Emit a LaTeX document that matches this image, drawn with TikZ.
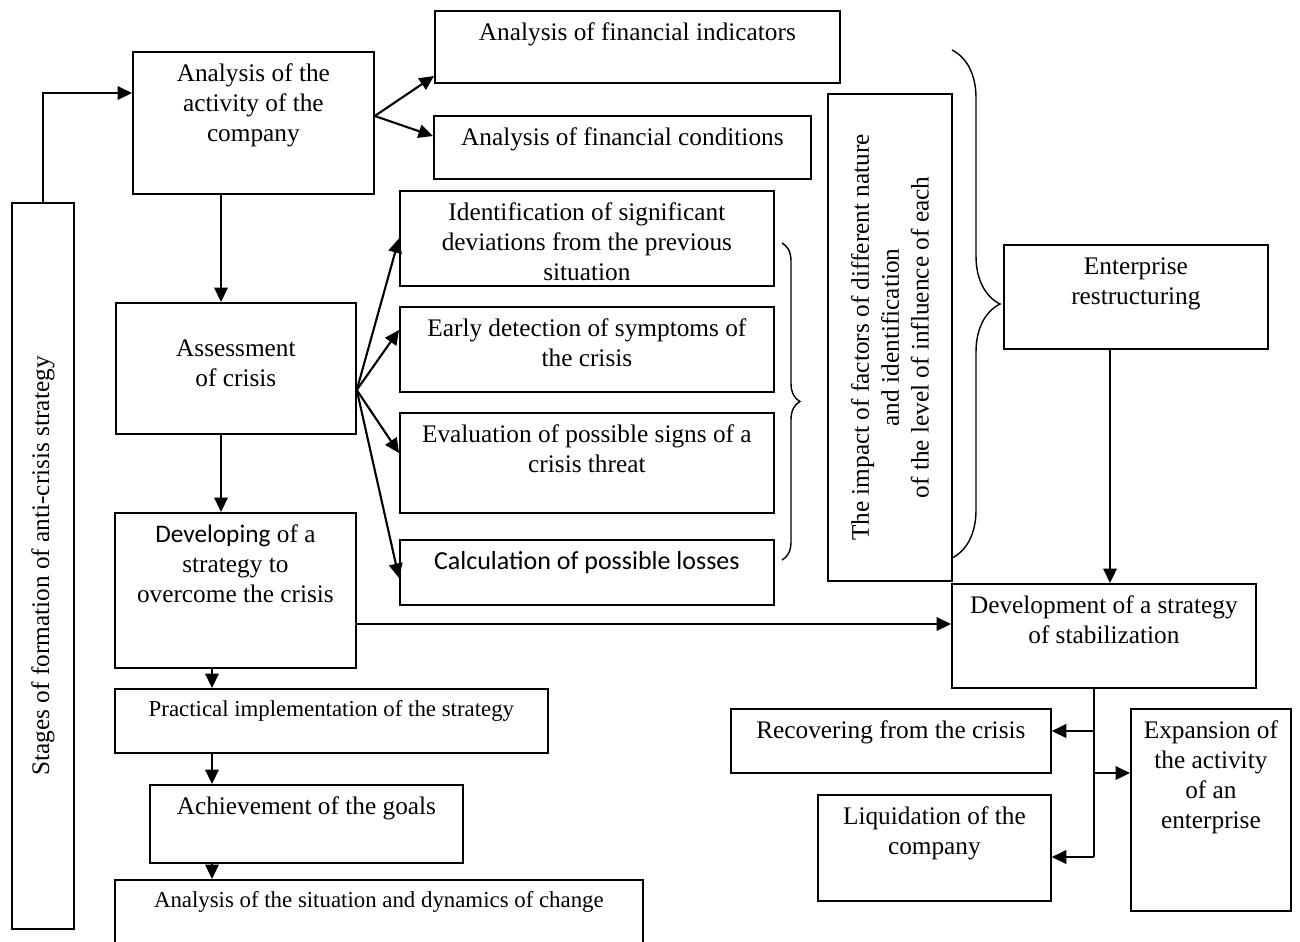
\documentclass[tikz,border=0pt]{standalone}
\usepackage{fontspec}
\setmainfont{Liberation Serif}
\newfontfamily\calfont{Carlito}
\usepackage{tikz}
\usetikzlibrary{arrows.meta, positioning, calc, decorations.pathreplacing}
\newlength\pxu
\setlength\pxu{0.02cm}
% box text, pinned to the top of a box of given size
\newcommand{\tb}[4][9]{\parbox[c][#3\pxu][t]{#2\pxu}{\centering\vspace*{#1\pxu}\strut #4\par}}

\begin{document}
\begin{tikzpicture}[
  x=0.02cm, y=-0.02cm,
  font=\fontsize{14.4}{17}\selectfont,
  box/.style={draw, line width=1pt, inner sep=0pt, anchor=north west},
  sidebox/.style={draw, line width=1pt, rotate=90, align=center, inner sep=0pt},
  small/.style={font=\fontsize{13}{15.5}\selectfont},
  arr/.style={line width=1.2pt, -{Triangle[length=0.29cm, width=0.27cm]}},
  link/.style={line width=1.2pt},
  brc/.style={decorate, decoration={brace, amplitude=#1}, line width=0.8pt}
]
  \useasboundingbox (0,0) rectangle (1300,941);
  \clip (0,0) rectangle (1300,941);

  % left column
  \node[sidebox, minimum width=14.52cm, minimum height=1.24cm] (stages) at (43,566) {Stages of formation of anti-crisis strategy};
  \node[box] (act) at (132,51) {\tb{241}{142}{Analysis of the\\activity of the\\company}};
  \node[box] (assess) at (115,302) {\tb[33]{240}{131}{Assessment\\of crisis}};
  \node[box] (devel) at (114,512) {\tb{241}{155}{{\calfont Developing} of a\\strategy to\\overcome the crisis}};
  \node[box, small] (pract) at (114,688) {\tb{433}{64}{Practical implementation of the strategy}};
  \node[box] (goals) at (149,784) {\tb{313}{78}{Achievement of the goals}};
  \node[box, small] (situ) at (114,879) {\tb{528}{100}{Analysis of the situation and dynamics of change}};

  % middle column
  \node[box] (findind) at (434,10) {\tb{405}{72}{Analysis of financial indicators}};
  \node[box] (fincond) at (433,115) {\tb{377}{63}{Analysis of financial conditions}};
  \node[box] (ident) at (399,190) {\tb{374}{95}{Identification of significant\\deviations from the previous\\situation}};
  \node[box] (early) at (399,306) {\tb{374}{85}{Early detection of symptoms of\\the crisis}};
  \node[box] (evalc) at (399,412) {\tb{374}{100}{Evaluation of possible signs of a\\crisis threat}};
  \node[box] (calc) at (399,539) {\tb{374}{65}{\calfont\fontsize{14.8}{17}\selectfont Calculation of possible losses}};

  % right part
  \node[sidebox, minimum width=9.74cm, minimum height=2.48cm] (impact) at (890,337.5) {The impact of factors of different nature\\and identification\\of the level of influence of each};
  \node[box] (restr) at (1003,244) {\tb{264}{104}{Enterprise\\restructuring}};
  \node[box] (stab) at (951,583) {\tb{304}{104}{Development of a strategy\\of stabilization}};
  \node[box] (recov) at (730,708) {\tb{320}{64}{Recovering from the crisis}};
  \node[box] (liquid) at (817,794) {\tb{233}{106}{Liquidation of the\\company}};
  \node[box] (expan) at (1130,708) {\tb{160}{202}{Expansion of\\the activity\\of an\\enterprise}};

  % connectors
  \draw[arr] (stages.east) |- (act.west |- 0,93);
  \coordinate (actout) at (act.east |- 0,116);
  \draw[arr] (actout) -- (findind.west |- 0,76);
  \draw[arr] (actout) -- (fincond.west |- 0,136);
  \draw[arr] (act.south -| 221,0) -- (assess.north -| 221,0);
  \coordinate (assout) at (assess.east |- 0,390);
  \draw[arr] (assout) -- (ident.west);
  \draw[arr] (assout) -- (early.west |- 0,330);
  \draw[arr] (assout) -- (evalc.west |- 0,453);
  \draw[arr] (assout) -- (calc.west |- 0,578);
  \draw[arr] (assess.south -| 221,0) -- (devel.north -| 221,0);
  \draw[arr] (devel.east |- 0,624) -- (stab.west |- 0,624);
  \draw[arr] (devel.south -| 212,0) -- (pract.north -| 212,0);
  \draw[arr] (pract.south -| 212,0) -- (goals.north -| 212,0);
  \draw[arr] (goals.south -| 212,0) -- (situ.north -| 212,0);
  \draw[arr] (restr.south -| 1110,0) -- (stab.north -| 1110,0);

  \coordinate (j1) at (1094,731);
  \coordinate (j2) at (1094,773);
  \coordinate (j3) at (1094,857);
  \draw[link] (stab.south -| j1) -- (j3);
  \draw[arr] (j1) -- (recov.east |- j1);
  \draw[arr] (j2) -- (expan.west |- j2);
  \draw[arr] (j3) -- (liquid.east |- j3);

  % braces
  \draw[brc=0.36cm] (782,243) -- (782,560);
  \draw[brc=0.96cm] (952,50) -- (952,558);
\end{tikzpicture}
\end{document}
